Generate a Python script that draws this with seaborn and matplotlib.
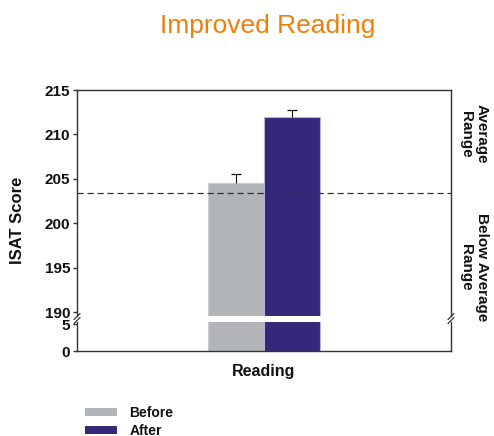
import matplotlib
matplotlib.use("Agg")
import matplotlib.pyplot as plt
import seaborn as sns
import pandas as pd
from matplotlib.patches import Patch
from matplotlib import font_manager

categories = ["Reading"]
groups = ["Before", "After"]
scores = [204.5, 212.0]
errors = [1.0, 0.7]
average_cutoff = 203.4
upper_ticks = [190, 195, 200, 205, 210, 215]
lower_ticks = [0, 5]

colors = {"Before": "#B1B5B7", "After": "#35277A"}
edges = {"Before": "#C9CCCE", "After": "#B7B0DA"}

sns.set_theme(style="white")
names = {f.name for f in font_manager.fontManager.ttflist}
title_font = "Liberation Sans Narrow" if "Liberation Sans Narrow" in names else "Liberation Sans"
plt.rcParams["font.family"] = ["Liberation Sans", "DejaVu Sans"]

df = pd.DataFrame({"cat": categories * len(groups), "group": groups, "score": scores})

fig = plt.figure(figsize=(4.94, 4.36), dpi=100)
L, R = 77 / 494, 451 / 494
def fy(p):
    return 1 - p / 436
ax_top = fig.add_axes([L, fy(316), R - L, fy(90) - fy(316)])
ax_bot = fig.add_axes([L, fy(351), R - L, fy(321.5) - fy(351)])

for ax in (ax_top, ax_bot):
    sns.barplot(data=df, x="cat", y="score", hue="group", hue_order=groups,
                palette=colors, width=0.3, dodge=True, ax=ax, legend=False,
                errorbar=None, saturation=1)
    for patch, g in zip(ax.patches, groups):
        patch.set_edgecolor(edges[g])
        patch.set_linewidth(0.8)
    ax.set_xlim(-0.5, 0.5)
    ax.set_xlabel("")
    ax.set_ylabel("")
    for s in ax.spines.values():
        s.set_color("#333333")
        s.set_linewidth(1.0)

# error bars (upper side only, single cap)
for patch, g, v, e in zip(ax_top.patches, groups, scores, errors):
    xc = patch.get_x() + patch.get_width() / 2
    ax_top.errorbar([xc], [v], yerr=[[0], [e]], fmt="none", ecolor="#111111",
                    elinewidth=0.8, capsize=0)
    ax_top.plot([xc], [v + e], marker="_", markersize=7, markeredgewidth=0.9,
                color="#111111", linestyle="none")

ax_top.axhline(average_cutoff, color="#333333", linestyle=(0, (5, 3)), linewidth=0.9)

ax_top.set_ylim(189.55, 215)
ax_top.set_yticks(upper_ticks)
ax_top.spines["bottom"].set_visible(False)
ax_top.tick_params(axis="x", bottom=False, labelbottom=False)
ax_bot.set_ylim(0, 5.5)
ax_bot.set_yticks(lower_ticks)
ax_bot.spines["top"].set_visible(False)

for ax in (ax_top, ax_bot):
    ax.tick_params(axis="y", left=True, length=3, width=1, color="#333333", pad=2,
                   labelsize=11)
    for t in ax.get_yticklabels():
        t.set_fontweight("bold")
        t.set_color("#111111")
ax_bot.tick_params(axis="x", bottom=False, labelsize=11.5, pad=3)
for t in ax_bot.get_xticklabels():
    t.set_fontweight("bold")
    t.set_color("#111111")

# break marks
for xf in (L, R):
    x0 = xf * 494
    for dy in (-2.0, 2.0):
        y = 318.5 + dy
        fig.add_artist(plt.Line2D([(x0 - 3) / 494, (x0 + 3) / 494],
                                  [fy(y + 3), fy(y - 3)],
                                  color="#333333", lw=0.9))

fig.text(18 / 494, fy(220), "ISAT Score", rotation=90, ha="center", va="center",
         fontsize=12, fontweight="bold", color="#111111")
fig.text(474 / 494, fy(134), "Average\nRange", rotation=-90, ha="center", va="center",
         fontsize=11, fontweight="bold", color="#111111", linespacing=1.15)
fig.text(474 / 494, fy(267), "Below Average\nRange", rotation=-90, ha="center", va="center",
         fontsize=11, fontweight="bold", color="#111111", linespacing=1.15)

fig.text(268 / 494, fy(26), "Improved Reading", ha="center", va="center",
         fontsize=19, color="#F07F0A", family=[title_font, "DejaVu Sans"])

handles = [Patch(facecolor=colors[g], edgecolor="none", label=g) for g in groups]
leg = fig.legend(handles=handles, loc="upper left", bbox_to_anchor=(85 / 494, fy(405.5)),
                 frameon=False, handlelength=2.3, handleheight=0.5, labelspacing=0.3,
                 handletextpad=0.9, borderpad=0, borderaxespad=0, fontsize=10)
for t in leg.get_texts():
    t.set_fontweight("bold")
    t.set_color("#111111")

fig.savefig("out.png", dpi=100)
